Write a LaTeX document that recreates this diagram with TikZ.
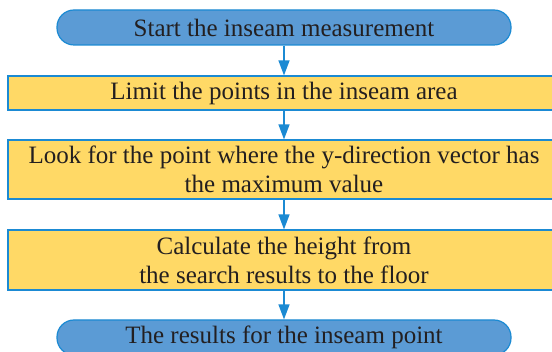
\documentclass[tikz,border=0pt]{standalone}
\usepackage{fontspec}
\setmainfont{Liberation Serif}
\usetikzlibrary{arrows.meta}
\definecolor{pillblue}{HTML}{5B9BD5}
\definecolor{edgeblue}{HTML}{1B8AD3}
\definecolor{boxyellow}{HTML}{FFD966}
\definecolor{txt}{HTML}{231F20}
\begin{document}
\begin{tikzpicture}[x=1pt,y=-1pt,
  basefont/.style={text=txt, font=\fontsize{25}{29}\selectfont},
  pill/.style={basefont, draw=edgeblue, fill=pillblue, line width=1.2pt, rounded corners=17pt, minimum width=454pt, minimum height=35pt, inner sep=0pt},
  stepbox/.style={basefont, draw=edgeblue, fill=boxyellow, line width=1.2pt, minimum width=552pt, inner sep=0pt, align=center},
  flow/.style={draw=edgeblue, line width=1.3pt, -{Triangle[length=15pt,width=11pt]}}]
\useasboundingbox (0,0) rectangle (552,352);
\node[pill] (start) at (284,27.5) {Start the inseam measurement};
\node[stepbox, minimum height=34pt] (limit) at (284,93) {Limit the points in the inseam area};
\node[stepbox, minimum height=59pt] (look) at (284,169.5) {Look for the point where the y-direction vector has\\the maximum value};
\node[stepbox, minimum height=60pt] (calc) at (284,260) {Calculate the height from\\the search results to the floor};
\node[pill] (result) at (284,337.5) {The results for the inseam point};
\draw[flow] (start) -- (limit);
\draw[flow] (limit) -- (look);
\draw[flow] (look) -- (calc);
\draw[flow] (calc) -- (result);
\end{tikzpicture}
\end{document}
